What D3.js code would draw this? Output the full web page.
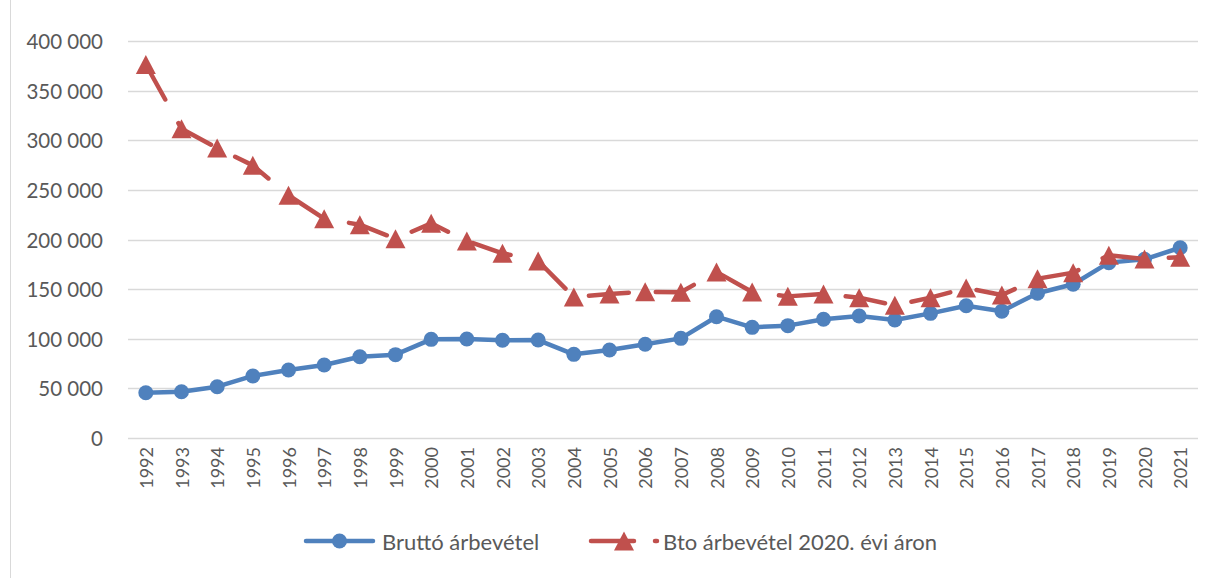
<!DOCTYPE html>
<html>
<head>
<meta charset="utf-8" />
<title>Árbevétel</title>
<style>
  body { margin: 0; background: #fff; }
  svg text { font-family: Lato, "Open Sans", sans-serif; fill: #595959; }
</style>
</head>
<body>
<svg width="1216" height="578"></svg>

<script src="https://cdn.jsdelivr.net/npm/d3@7/dist/d3.min.js"></script>
<script>
// évek (kategóriák)
var years = ['1992', '1993', '1994', '1995', '1996', '1997', '1998', '1999', '2000', '2001',
    '2002', '2003', '2004', '2005', '2006', '2007', '2008', '2009', '2010', '2011',
    '2012', '2013', '2014', '2015', '2016', '2017', '2018', '2019', '2020', '2021'];

// Bruttó árbevétel
var brutto = [45600, 46600, 51700, 62500, 68500, 73500, 81900, 84000, 99400, 99800,
    98500, 98700, 84300, 88700, 94400, 100400, 122200, 111500, 113200, 119600,
    122900, 118900, 125600, 133300, 127800, 145800, 154900, 176700, 180000, 191700];

// Bto árbevétel 2020. évi áron
var bto2020 = [376300, 311600, 292200, 274700, 244500, 221000, 214900, 200800, 216300, 198500,
    186100, 178300, 142100, 145100, 147400, 146800, 167300, 147100, 142700, 145100,
    141400, 133700, 141400, 151100, 144100, 160500, 166600, 184100, 180400, 182100];

var yTicks = [0, 50000, 100000, 150000, 200000, 250000, 300000, 350000, 400000];
var seriesNames = ['Bruttó árbevétel', 'Bto árbevétel 2020. évi áron'];

var blue = '#4f81bd';
var red = '#c0504d';

var svg = d3.select('svg');

// keret
svg.append('rect')
    .attr('x', 10.5).attr('y', -5)
    .attr('width', 1300).attr('height', 600)
    .attr('fill', 'none')
    .attr('stroke', '#d9d9d9')
    .attr('stroke-width', 1);

var x = d3.scaleBand()
    .domain(years)
    .range([128, 1198]);

var y = d3.scaleLinear()
    .domain([0, 400000])
    .range([438, 41]);

var fmt = d3.formatLocale({ decimal: ',', thousands: ' ', grouping: [3], currency: ['', ''] }).format(',d');

function cx(d, i) {
    return x(years[i]) + x.bandwidth() / 2;
}

// rácsvonalak
svg.append('g')
    .selectAll('line')
    .data(yTicks)
    .enter()
    .append('line')
    .attr('x1', 128).attr('x2', 1198)
    .attr('y1', function (d) { return Math.round(y(d)) + 0.5; })
    .attr('y2', function (d) { return Math.round(y(d)) + 0.5; })
    .attr('stroke', '#d9d9d9')
    .attr('stroke-width', 1.5);

// y tengely feliratai
svg.append('g')
    .selectAll('text')
    .data(yTicks)
    .enter()
    .append('text')
    .attr('x', 103)
    .attr('y', function (d) { return y(d); })
    .attr('text-anchor', 'end')
    .attr('dominant-baseline', 'central')
    .style('font-size', '20.5px')
    .text(function (d) { return fmt(d); });

// x tengely feliratai
svg.append('g')
    .selectAll('text')
    .data(years)
    .enter()
    .append('text')
    .attr('transform', function (d) {
        return 'translate(' + (x(d) + x.bandwidth() / 2) + ',447) rotate(-90)';
    })
    .attr('text-anchor', 'end')
    .attr('dominant-baseline', 'central')
    .style('font-size', '18px')
    .text(function (d) { return d; });

var line = d3.line()
    .x(cx)
    .y(function (d) { return y(d); });

function triangle(w, h) {
    return 'M0,' + (-h / 2) + 'L' + (w / 2) + ',' + (h / 2) + 'L' + (-w / 2) + ',' + (h / 2) + 'Z';
}

// Bruttó árbevétel
svg.append('path')
    .datum(brutto)
    .attr('d', line)
    .attr('fill', 'none')
    .attr('stroke', blue)
    .attr('stroke-width', 4.5)
    .attr('stroke-linejoin', 'round')
    .attr('stroke-linecap', 'round');

svg.append('g')
    .selectAll('circle')
    .data(brutto)
    .enter()
    .append('circle')
    .attr('cx', cx)
    .attr('cy', function (d) { return y(d); })
    .attr('r', 7.5)
    .attr('fill', blue);

// Bto árbevétel 2020. évi áron
svg.append('path')
    .datum(bto2020)
    .attr('d', line)
    .attr('fill', 'none')
    .attr('stroke', red)
    .attr('stroke-width', 4.5)
    .attr('stroke-linejoin', 'round')
    .attr('stroke-linecap', 'round')
    .attr('stroke-dasharray', '40,27');

svg.append('g')
    .selectAll('path')
    .data(bto2020)
    .enter()
    .append('path')
    .attr('transform', function (d, i) { return 'translate(' + cx(d, i) + ',' + y(d) + ')'; })
    .attr('d', triangle(20, 19))
    .attr('fill', red);

// jelmagyarázat
var legend = svg.append('g');

legend.append('line')
    .attr('x1', 306).attr('x2', 373)
    .attr('y1', 541).attr('y2', 541)
    .attr('stroke', blue)
    .attr('stroke-width', 4.5)
    .attr('stroke-linecap', 'round');
legend.append('circle')
    .attr('cx', 339.5).attr('cy', 541)
    .attr('r', 7.5)
    .attr('fill', blue);
legend.append('text')
    .attr('x', 382).attr('y', 541)
    .attr('dominant-baseline', 'central')
    .style('font-size', '22px')
    .text(seriesNames[0]);

legend.append('line')
    .attr('x1', 591).attr('x2', 657)
    .attr('y1', 541).attr('y2', 541)
    .attr('stroke', red)
    .attr('stroke-width', 4.5)
    .attr('stroke-linecap', 'round')
    .attr('stroke-dasharray', '43,21');
legend.append('path')
    .attr('transform', 'translate(624,541)')
    .attr('d', triangle(20, 19))
    .attr('fill', red);
legend.append('text')
    .attr('x', 663).attr('y', 541)
    .attr('dominant-baseline', 'central')
    .style('font-size', '22px')
    .text(seriesNames[1]);
</script>
</body>
</html>
